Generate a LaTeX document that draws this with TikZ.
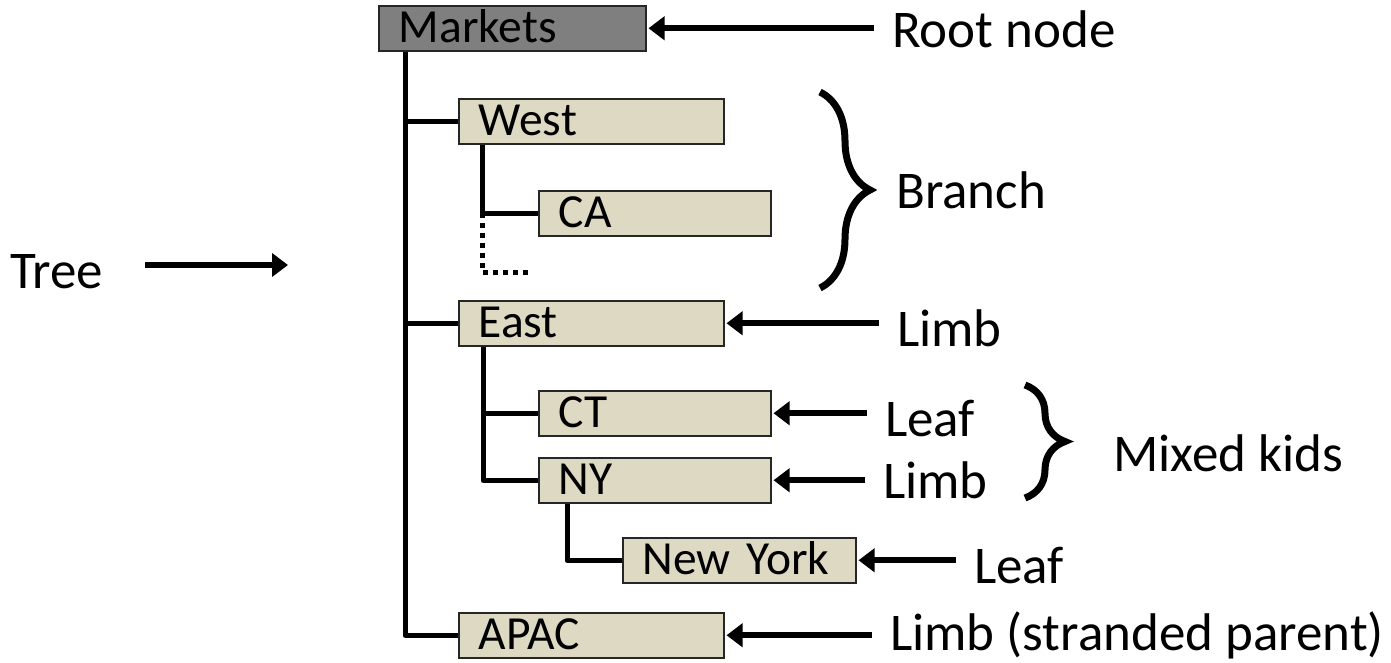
\documentclass[tikz,border=0pt]{standalone}
\usepackage{fontspec}
\setmainfont{Carlito}
\usepackage{tikz}
\usetikzlibrary{arrows.meta, decorations.pathreplacing}

\definecolor{rootFill}{HTML}{7F7F7F}
\definecolor{nodeFill}{HTML}{DDD9C3}

\tikzset{
	box/.style = {draw = black!85, line width = 1.5pt, anchor = north west, minimum height = 45pt, inner xsep = 20pt, inner ysep = 0pt, text width = #1, text height = 34pt, text depth = 6pt, align = left, fill = nodeFill, font = \fontsize{47.5}{50}\selectfont},
	tag/.style = {anchor = base west, inner sep = 0pt, font = \fontsize{53}{56}\selectfont},
	link/.style = {line width = 5pt, line join = round},
	dotLink/.style = {line width = 5pt, dash pattern = on 5pt off 5pt},
	pointer/.style = {line width = 6pt, shorten <= 18pt, shorten >= 2pt, -{Triangle[length = 16pt, width = 23pt]}},
	curly/.style = {line width = 7pt, decorate, decoration = {brace, amplitude = #1}}
}

\begin{document}
\begin{tikzpicture}[x = 1pt, y = -1pt]
		\useasboundingbox (0,0) rectangle (1391,662);

		\node [box = 227pt, fill = rootFill] (markets) at (378,5) {Markets};
		\node [box = 225pt] (west) at (458,98) {West};
		\node [box = 192pt] (ca) at (538,190) {CA};
		\node [box = 225pt] (east) at (458,300) {East};
		\node [box = 192pt] (ct) at (538,390) {CT};
		\node [box = 192pt] (ny) at (538,457) {NY};
		\node [box = 193pt] (newYork) at (622,537) {New York};
		\node [box = 225pt] (apac) at (458,612) {APAC};

		\coordinate (marketsTrunk) at ([xshift = 27pt]markets.south west);
		\coordinate (westTrunk) at ([xshift = 24pt]west.south west);
		\coordinate (eastTrunk) at ([xshift = 25pt]east.south west);
		\coordinate (nyTrunk) at ([xshift = 29pt]ny.south west);
		\coordinate (westMore) at (533,272);

		\draw [link] (marketsTrunk) |- (apac.west);
		\draw [link] (marketsTrunk) |- (west.west);
		\draw [link] (marketsTrunk) |- (east.west);
		\draw [link] (westTrunk) |- (ca.west);
		\draw [dotLink] (ca.west -| westTrunk) |- (westMore);
		\draw [link] (eastTrunk) |- (ny.west);
		\draw [link] (eastTrunk) |- (ct.west);
		\draw [link] (nyTrunk) |- (newYork.west);

		\node [tag] (treeTag) at (10,288) {Tree};
		\node [tag] (rootTag) at (892,47) {Root node};
		\node [tag] (branchTag) at (896,208) {Branch};
		\node [tag] (eastTag) at (897,346) {Limb};
		\node [tag] (ctTag) at (885,436) {Leaf};
		\node [tag] (nyTag) at (883,498) {Limb};
		\node [tag] (mixedTag) at (1113,471) {Mixed kids};
		\node [tag] (newYorkTag) at (974,583) {Leaf};
		\node [tag] (apacTag) at (890,650) {Limb (stranded parent)};

		\coordinate (treeTip) at (290,265);

		\begin{scope}[pointer]
			\draw [shorten <= 42pt] (treeTag.east |- treeTip) -- (treeTip);
			\draw (markets.east -| rootTag.west) -- (markets.east);
			\draw (east.east -| eastTag.west) -- (east.east);
			\draw (ct.east -| ctTag.west) -- (ct.east);
			\draw (ny.east -| nyTag.west) -- (ny.east);
			\draw (newYork.east -| newYorkTag.west) -- (newYork.east);
			\draw (apac.east -| apacTag.west) -- (apac.east);
		\end{scope}

		\draw [curly = 50pt] (820,92) -- (820,288);
		\draw [curly = 40pt] (1025,385) -- (1025,498);
	\end{tikzpicture}
\end{document}
